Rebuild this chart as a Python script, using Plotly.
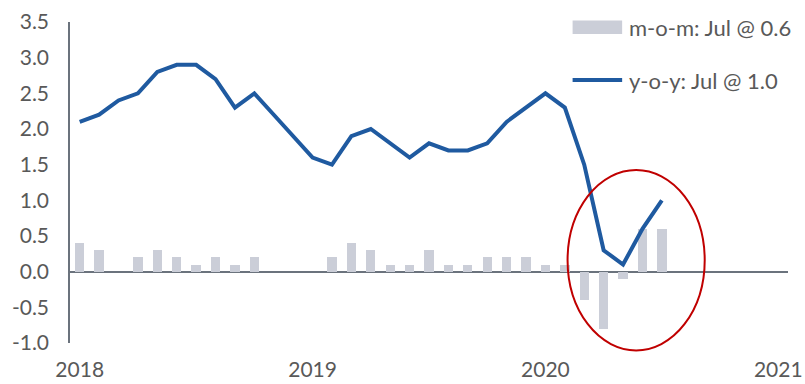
import plotly.graph_objects as go
import pandas as pd

# Monthly categories Jan 2018 .. Jul 2020
months = [p.strftime("%Y-%m") for p in pd.period_range("2018-01", "2020-07", freq="M")]

yoy = [2.1, 2.2, 2.4, 2.5, 2.8, 2.9, 2.9, 2.7, 2.3, 2.5, 2.2, 1.9,
       1.6, 1.5, 1.9, 2.0, 1.8, 1.6, 1.8, 1.7, 1.7, 1.8, 2.1, 2.3,
       2.5, 2.3, 1.5, 0.3, 0.1, 0.6, 1.0]
mom = [0.4, 0.3, 0.0, 0.2, 0.3, 0.2, 0.1, 0.2, 0.1, 0.2, 0.0, 0.0,
       0.0, 0.2, 0.4, 0.3, 0.1, 0.1, 0.3, 0.1, 0.1, 0.2, 0.2, 0.2,
       0.1, 0.1, -0.4, -0.8, -0.1, 0.6, 0.6]

year_ticks = ["2018", "2019", "2020", "2021"]
y_ticks = [-1.0, -0.5, 0.0, 0.5, 1.0, 1.5, 2.0, 2.5, 3.0, 3.5]

mom_name = "m-o-m: Jul @ 0.6"
yoy_name = "y-o-y: Jul @ 1.0"

x_idx = list(range(len(months)))
tick_pos = [12 * i for i in range(len(year_ticks))]

BAR = "#CBCED8"
LINE = "#1F5AA0"
AXIS = "#6B737D"
TXT = "#595959"
FONT = "Lato"

fig = go.Figure()
fig.add_trace(go.Bar(x=x_idx, y=mom, name=mom_name, marker_color=BAR,
                     marker_line_width=0, width=0.48, customdata=months,
                     showlegend=False))
fig.add_trace(go.Scatter(x=x_idx, y=yoy, name=yoy_name, mode="lines",
                         line=dict(color=LINE, width=4), customdata=months,
                         showlegend=False))

# Manual legend (swatches + labels)
fig.add_shape(type="rect", xref="paper", yref="paper", x0=0.700, x1=0.769,
              y0=0.963, y1=1.005, fillcolor=BAR, line_width=0)
fig.add_shape(type="line", xref="paper", yref="paper", x0=0.700, x1=0.769,
              y0=0.819, y1=0.819, line=dict(color=LINE, width=4))
fig.add_annotation(xref="paper", yref="paper", x=0.776, y=0.984, text=mom_name,
                   showarrow=False, xanchor="left", yanchor="middle",
                   font=dict(family=FONT, size=22, color=TXT))
fig.add_annotation(xref="paper", yref="paper", x=0.776, y=0.819, text=yoy_name,
                   showarrow=False, xanchor="left", yanchor="middle",
                   font=dict(family=FONT, size=22, color=TXT))

# Red highlight ellipse
fig.add_shape(type="circle", xref="paper", yref="paper", x0=0.693, x1=0.884,
              y0=-0.023, y1=0.539, line=dict(color="#C00000", width=2),
              fillcolor="rgba(0,0,0,0)")

fig.update_layout(
    width=805, height=384,
    margin=dict(l=70, r=17, t=22, b=41),
    plot_bgcolor="white", paper_bgcolor="white",
    font=dict(family=FONT, size=21, color=TXT),
    bargap=0,
    xaxis=dict(range=[-0.5, 36.5], tickmode="array", tickvals=tick_pos,
               ticktext=year_ticks, showgrid=False, zeroline=False,
               showline=False, ticks="", ticklabelstandoff=12,
               automargin=False),
    yaxis=dict(range=[-1.0, 3.5], tickmode="array", tickvals=y_ticks,
               ticktext=[f"{v:.1f}" for v in y_ticks], showgrid=False,
               zeroline=True, zerolinecolor=AXIS, zerolinewidth=2,
               showline=True, linecolor=AXIS, linewidth=1.5, ticks="",
               ticklabelstandoff=15, automargin=False),
)

fig.write_html(
    "out.html",
    config={"displayModeBar": False},
    post_script="document.body.style.margin='0';document.body.style.padding='0';"
                "document.body.style.overflow='hidden';",
)
